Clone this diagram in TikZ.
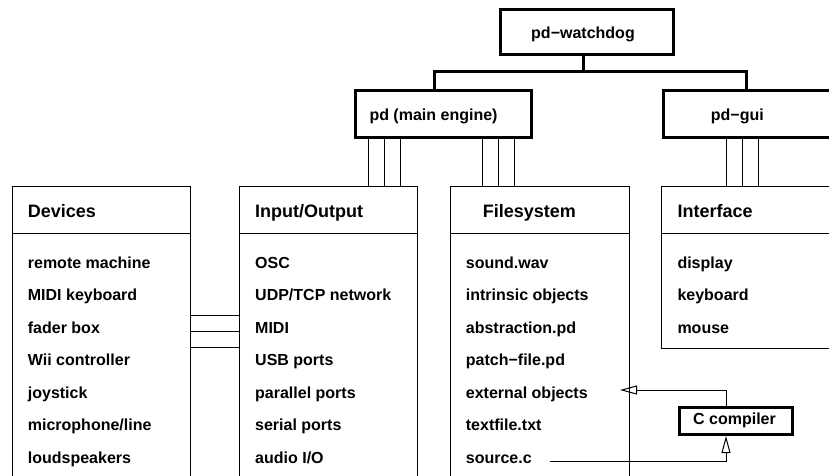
\documentclass[tikz,border=0pt]{standalone}
\usepackage{fontspec}
\setmainfont{Liberation Sans}
\usetikzlibrary{arrows.meta}
\begin{document}
\begin{tikzpicture}[x=1pt,y=-1pt,
  thinbox/.style={draw,line width=1pt,rectangle,inner sep=0,anchor=north west},
  thickbox/.style={draw,line width=3pt,rectangle,inner sep=0,anchor=north west},
  hd/.style={font=\fontsize{18}{20}\selectfont\bfseries,inner sep=0,anchor=base west},
  itm/.style={font=\fontsize{16}{18}\selectfont\bfseries,inner sep=0,anchor=base west},
  wire/.style={line width=1pt},
  tree/.style={line width=3pt},
  opentip/.style={-{Triangle[open,length=17pt,width=9pt]},line width=1pt}]
\clip (0,0) rectangle (829,475);
% top boxes
\node[thickbox,minimum width=173pt,minimum height=45pt] (wd) at (499,8) {};
\node[thickbox,minimum width=176pt,minimum height=46.5pt] (pd) at (354,89) {};
\node[thickbox,minimum width=200pt,minimum height=46.5pt] (gui) at (662,89) {};
\node[itm] (wdt) at (531,38.5) {pd−watchdog};
\node[itm] (pdt) at (369.3,120.5) {pd (main engine)};
\node[itm] (guit) at (710.7,120.5) {pd−gui};
% tree
\draw[tree] (583,0 |- wd.south) -- (583,71) -| (434,0 |- pd.north);
\draw[tree] (583,71) -| (746,0 |- gui.north);
% lower boxes
\node[thinbox,minimum width=177.5pt,minimum height=320pt] (dev) at (12,186) {};
\node[thinbox,minimum width=178pt,minimum height=320pt] (io) at (239,186) {};
\node[thinbox,minimum width=179pt,minimum height=320pt] (fs) at (449.5,186) {};
\node[thinbox,minimum width=200pt,minimum height=161.5pt] (intf) at (661,186) {};
\foreach \b in {dev,io,fs,intf}
  \draw[wire] (\b.west |- 0,233.5) -- (\b.east |- 0,233.5);
% headers
\node[hd] (devh) at (27.7,217.7) {Devices};
\node[hd] (ioh) at (255,217.7) {Input/Output};
\node[hd] (fsh) at (482.7,217.7) {Filesystem};
\node[hd] (intfh) at (677.3,217.7) {Interface};
% items
\node[itm] (d1) at (27.7,268) {remote machine};
\node[itm] (d2) at (27.7,300.5) {MIDI keyboard};
\node[itm] (d3) at (27.7,333) {fader box};
\node[itm] (d4) at (27.7,365.5) {Wii controller};
\node[itm] (d5) at (27.7,398) {joystick};
\node[itm] (d6) at (27.7,430.5) {microphone/line};
\node[itm] (d7) at (27.7,463) {loudspeakers};
\node[itm] (i1) at (255,268) {OSC};
\node[itm] (i2) at (255,300.5) {UDP/TCP network};
\node[itm] (i3) at (255,333) {MIDI};
\node[itm] (i4) at (255,365.5) {USB ports};
\node[itm] (i5) at (255,398) {parallel ports};
\node[itm] (i6) at (255,430.5) {serial ports};
\node[itm] (i7) at (255,463) {audio I/O};
\node[itm] (f1) at (465.7,268) {sound.wav};
\node[itm] (f2) at (465.7,300.5) {intrinsic objects};
\node[itm] (f3) at (465.7,333) {abstraction.pd};
\node[itm] (f4) at (465.7,365.5) {patch−file.pd};
\node[itm] (f5) at (465.7,398) {external objects};
\node[itm] (f6) at (465.7,430.5) {textfile.txt};
\node[itm] (f7) at (465.7,463) {source.c};
\node[itm] (n1) at (677.3,268) {display};
\node[itm] (n2) at (677.3,300.5) {keyboard};
\node[itm] (n3) at (677.3,333) {mouse};
% bundles
\foreach \x in {368.3,384.3,400.3,482.3,498.3,514.3}
  \draw[wire] (\x,0 |- pd.south) -- (\x,0 |- io.north);
\foreach \x in {726,742.3,758.3}
  \draw[wire] (\x,0 |- gui.south) -- (\x,0 |- intf.north);
\foreach \y in {315.7,331.7,347.7}
  \draw[wire] (dev.east |- 0,\y) -- (io.west |- 0,\y);
% C compiler
\node[thickbox,minimum width=113pt,minimum height=27pt] (cc) at (677.5,406) {};
\node[itm,anchor=base] (cct) at (734.5,424.5) {C compiler};
\coordinate (ext) at (620,390);
\coordinate (src) at (550,461.5);
\draw[opentip] (726,0 |- cc.north) |- (ext);
\draw[opentip] (src) -| (726,0 |- cc.south);
\end{tikzpicture}
\end{document}
